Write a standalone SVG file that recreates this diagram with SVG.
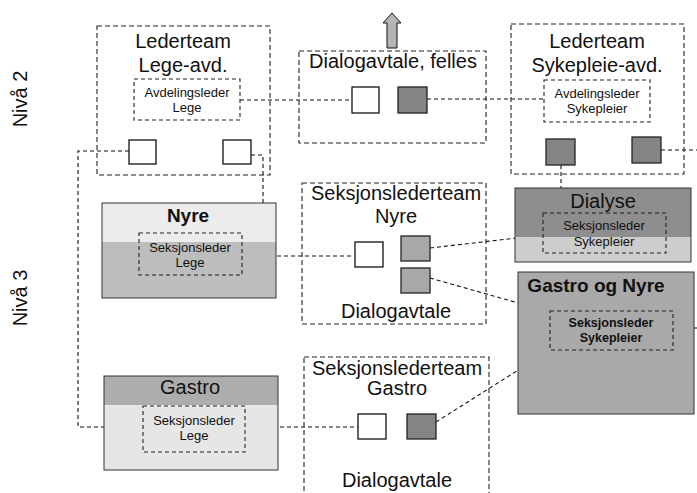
<svg xmlns="http://www.w3.org/2000/svg" width="697" height="493" viewBox="0 0 697 493">
  <style>
    text { font-family: "Liberation Sans", Arial, sans-serif; fill: #111; text-anchor: middle; }
    .t20 { font-size: 20px; }
    .t20b { font-size: 19px; font-weight: bold; }
    .t13 { font-size: 13px; }
    .t13b { font-size: 12.5px; font-weight: bold; }
    .dbox { fill: none; stroke: #222; stroke-width: 1.1; stroke-dasharray: 5 3; }
    .ibox { fill: none; stroke: #222; stroke-width: 1.1; stroke-dasharray: 4 3; }
    .unit { stroke: #333; stroke-width: 1; }
    .sq { fill: #fff; stroke: #111; stroke-width: 1.3; }
    .sqg { fill: #848484; stroke: #222; stroke-width: 1.3; }
    .sql { fill: #a8a8a8; stroke: #222; stroke-width: 1.3; }
    .conn { fill: none; stroke: #111; stroke-width: 1.1; stroke-dasharray: 4 3; }
  </style>

  <!-- level labels -->
  <g id="level-labels">
    <text class="t20" transform="translate(27,99) rotate(-90)">Nivå 2</text>
    <text class="t20" transform="translate(27,298) rotate(-90)">Nivå 3</text>
  </g>

  <!-- upward arrow above the shared dialogue agreement -->
  <g id="arrow-up">
    <polygon points="392,13 401,23 397,23 397,48 387,48 387,23 383,23" fill="#b4b4b4" stroke="#111" stroke-width="1"/>
  </g>

  <!-- connectors -->
  <g id="connectors">
    <line class="conn" x1="240" y1="100" x2="352" y2="100"/>
    <line class="conn" x1="427" y1="99" x2="544" y2="99"/>
    <path class="conn" d="M129,151 H78 V427 H143"/>
    <path class="conn" d="M251,155 H263 V256"/>
    <line class="conn" x1="242" y1="256" x2="355" y2="256"/>
    <line class="conn" x1="561" y1="165" x2="561" y2="213"/>
    <line class="conn" x1="661" y1="150" x2="697" y2="150"/>
    <line class="conn" x1="430" y1="248" x2="543" y2="235"/>
    <line class="conn" x1="430" y1="278" x2="550" y2="312"/>
    <line class="conn" x1="245" y1="427" x2="358" y2="427"/>
    <line class="conn" x1="436" y1="422" x2="550" y2="350"/>
    <line class="conn" x1="673" y1="328" x2="697" y2="328"/>
  </g>

  <!-- Level 2: management team, physicians -->
  <g id="lederteam-lege">
    <rect class="dbox" x="97" y="26" width="173" height="149"/>
    <text class="t20" x="183" y="48">Lederteam</text>
    <text class="t20" x="183" y="72">Lege-avd.</text>
    <rect class="ibox" x="134" y="79" width="106" height="41"/>
    <text class="t13" x="187" y="97">Avdelingsleder</text>
    <text class="t13" x="187" y="112">Lege</text>
    <rect class="sq" x="129" y="140" width="27" height="24"/>
    <rect class="sq" x="223" y="140" width="28" height="24"/>
  </g>

  <!-- Level 2: shared dialogue agreement -->
  <g id="dialogavtale-felles">
    <rect class="dbox" x="299" y="51" width="187" height="92"/>
    <text class="t20" x="393" y="68">Dialogavtale, felles</text>
    <rect class="sq" x="352" y="87" width="27" height="26"/>
    <rect class="sqg" x="398" y="87" width="29" height="26"/>
  </g>

  <!-- Level 2: management team, nursing -->
  <g id="lederteam-sykepleie">
    <rect class="dbox" x="511" y="24" width="173" height="150"/>
    <text class="t20" x="597" y="48">Lederteam</text>
    <text class="t20" x="597" y="72">Sykepleie-avd.</text>
    <rect class="ibox" x="544" y="80" width="106" height="42"/>
    <text class="t13" x="597" y="98">Avdelingsleder</text>
    <text class="t13" x="597" y="113">Sykepleier</text>
    <rect class="sqg" x="546" y="139" width="29" height="26"/>
    <rect class="sqg" x="632" y="137" width="29" height="26"/>
  </g>

  <!-- Level 3: Nyre section -->
  <g id="nyre">
    <rect x="102" y="203" width="174" height="39" fill="#ececec"/>
    <rect x="102" y="242" width="174" height="56" fill="#bdbdbd"/>
    <rect class="unit" x="102" y="203" width="174" height="95" fill="none"/>
    <text class="t20b" x="188" y="222">Nyre</text>
    <rect class="ibox" x="139" y="233" width="103" height="42"/>
    <text class="t13" x="190" y="252">Seksjonsleder</text>
    <text class="t13" x="190" y="267">Lege</text>
  </g>

  <!-- Level 3: section team Nyre -->
  <g id="seksjonslederteam-nyre">
    <rect class="dbox" x="302" y="183" width="184" height="141"/>
    <text class="t20" x="396" y="200">Seksjonslederteam</text>
    <text class="t20" x="396" y="223">Nyre</text>
    <rect class="sq" x="355" y="242" width="28" height="25"/>
    <rect class="sql" x="401" y="236" width="29" height="25"/>
    <rect class="sql" x="401" y="268" width="29" height="25"/>
    <text class="t20" x="396" y="318">Dialogavtale</text>
  </g>

  <!-- Level 3: Dialyse section -->
  <g id="dialyse">
    <rect x="515" y="188" width="176" height="49" fill="#8e8e8e"/>
    <rect x="515" y="237" width="176" height="25" fill="#cdcdcd"/>
    <rect class="unit" x="515" y="188" width="176" height="74" fill="none"/>
    <text class="t20" x="603" y="208">Dialyse</text>
    <rect class="ibox" x="543" y="213" width="123" height="40"/>
    <text class="t13" x="604" y="230">Seksjonsleder</text>
    <text class="t13" x="604" y="246">Sykepleier</text>
  </g>

  <!-- Level 3: Gastro og Nyre section -->
  <g id="gastro-og-nyre">
    <rect class="unit" x="518" y="272" width="176" height="142" fill="#a9a9a9"/>
    <text class="t20b" x="596" y="292">Gastro og Nyre</text>
    <rect class="ibox" x="550" y="311" width="123" height="39"/>
    <text class="t13b" x="611" y="327">Seksjonsleder</text>
    <text class="t13b" x="611" y="342">Sykepleier</text>
  </g>

  <!-- Level 3: Gastro section -->
  <g id="gastro">
    <rect x="104" y="376" width="174" height="29" fill="#adadad"/>
    <rect x="104" y="405" width="174" height="65" fill="#e6e6e6"/>
    <rect class="unit" x="104" y="376" width="174" height="94" fill="none"/>
    <text class="t20" x="190" y="394">Gastro</text>
    <rect class="ibox" x="143" y="406" width="102" height="46"/>
    <text class="t13" x="194" y="425">Seksjonsleder</text>
    <text class="t13" x="194" y="440">Lege</text>
  </g>

  <!-- Level 3: section team Gastro -->
  <g id="seksjonslederteam-gastro">
    <rect class="dbox" x="304" y="357" width="185" height="150"/>
    <text class="t20" x="397" y="375">Seksjonslederteam</text>
    <text class="t20" x="397" y="395">Gastro</text>
    <rect class="sq" x="358" y="414" width="28" height="25"/>
    <rect class="sqg" x="407" y="414" width="29" height="25"/>
    <text class="t20" x="397" y="487">Dialogavtale</text>
  </g>
</svg>
